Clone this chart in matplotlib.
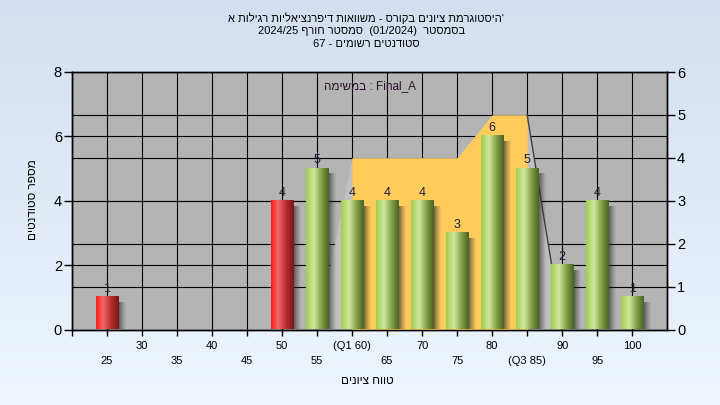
import re
import numpy as np
import matplotlib
matplotlib.use("Agg")
import matplotlib.pyplot as plt
from matplotlib.colors import LinearSegmentedColormap

# grade bins and student counts (left axis)
grades = [25, 30, 35, 40, 45, 50, 55, 60, 65, 70, 75, 80, 85, 90, 95, 100]
counts = [1, 0, 0, 0, 0, 4, 5, 4, 4, 4, 3, 6, 5, 2, 4, 1]
tick_labels = ["25", "30", "35", "40", "45", "50", "55", "(Q1 60)",
               "65", "70", "75", "80", "(Q3 85)", "90", "95", "100"]

# background band (right axis) and the quartile range inside it
band = [0, 0, 0, 0, 0, 0, 0, 4, 4, 4, 4, 5, 5, 0, 0, 0]
q1_idx = 7
q3_idx = 12
pass_grade = 55

title_1 = "היסטוגרמת ציונים בקורס - משוואות דיפרנציאליות רגילות א"
title_2 = "בסמסטר  (01/2024)  סמסטר חורף 2024/25"
title_3 = "סטודנטים רשומים - 67"
task_label = "במשימה"
task_name = "Final_A"
x_title = "טווח ציונים"
y_title = "מספר סטודנטים"


def vis(s):
    # logical hebrew -> visual order (matplotlib draws left to right)
    r = s[::-1]
    r = re.sub(r"[0-9A-Za-z_/.]+", lambda m: m.group(0)[::-1], r)
    return r.translate(str.maketrans("()", ")("))


plt.rcParams["font.family"] = ["Liberation Sans", "DejaVu Sans"]

fig = plt.figure(figsize=(7.2, 4.05), dpi=100)

# figure background gradient
bg = fig.add_axes([0, 0, 1, 1], zorder=-10)
bg_cmap = LinearSegmentedColormap.from_list("bg", ["#d3dff0", "#eef5fd"])
bg.imshow(np.linspace(0, 1, 256)[:, None], aspect="auto", cmap=bg_cmap,
          extent=[0, 1, 0, 1])
bg.axis("off")

W, H = 720, 405
left, right, top, bottom = 71.7, 667.3, 72, 329.5
ax = fig.add_axes([left / W, 1 - bottom / H, (right - left) / W, (bottom - top) / H])
ax.set_facecolor("#b4b4b4")

n = len(grades)
k = 8 / 6   # right axis -> left axis units
xs = np.arange(n)

# grid from both axes
for gx in range(-1, n + 1):
    ax.axvline(gx, color="black", lw=0.8, zorder=1)
for gy in [2, 4, 6]:
    ax.axhline(gy, color="black", lw=0.8, zorder=1)
for gr in range(1, 6):
    ax.axhline(gr * k, color="black", lw=0.8, zorder=1)

band_l = np.array(band) * k
ax.fill_between(xs, band_l, color="#c0c0c0", lw=0, zorder=2)
ax.fill_between(xs[q1_idx:q3_idx + 1], band_l[q1_idx:q3_idx + 1],
                color="#ffcc5c", lw=0, zorder=3)
ax.plot([q3_idx, q3_idx + 1], [band_l[q3_idx], band_l[q3_idx + 1]],
        color="#404040", lw=1, zorder=3)

green = LinearSegmentedColormap.from_list(
    "g", [(0, "#a2cc50"), (0.35, "#cfe89c"), (0.7, "#7f9c44"), (1, "#4a6424")])
red = LinearSegmentedColormap.from_list(
    "r", [(0, "#ff1a1a"), (0.3, "#f06868"), (0.7, "#b02a2a"), (1, "#7a1515")])

w = 0.63
row = np.linspace(0, 1, 64)[None, :]
shade = np.zeros((1, 24, 4))
shade[..., :3] = 0.18
shade[..., 3] = np.linspace(0.8, 0, 24) ** 1.3

for i, v in enumerate(counts):
    if v == 0:
        continue
    x0 = i - w / 2
    ax.imshow(shade, extent=[x0 + w, x0 + w + 0.24, 0, v - 0.18],
              aspect="auto", zorder=4, interpolation="bilinear")
    cm = red if grades[i] < pass_grade else green
    ax.imshow(row, cmap=cm, extent=[x0, x0 + w, 0, v], aspect="auto",
              zorder=5, interpolation="bilinear")
    ax.annotate(str(v), (i, v), xytext=(0, 1.5), textcoords="offset points",
                ha="center", va="bottom", fontsize=9, color="#1c1c3c", zorder=6)

ax.set_xlim(-1, n)
ax.set_ylim(0, 8)
ax.set_aspect("auto")

ax.set_yticks([0, 2, 4, 6, 8])
ax.tick_params(axis="y", direction="out", length=6, width=1, labelsize=10.5, pad=1)

ax.set_xticks(xs[1::2])
ax.set_xticklabels(tick_labels[1::2])
ax.set_xticks([-1] + list(xs[0::2]), minor=True)
ax.set_xticklabels([""] + tick_labels[0::2], minor=True)
ax.tick_params(axis="x", which="both", direction="out", length=4, width=1, labelsize=8)
ax.tick_params(axis="x", which="major", pad=4)
ax.tick_params(axis="x", which="minor", pad=15)

ax2 = ax.twinx()
ax2.set_ylim(0, 6)
ax2.set_yticks(range(7))
ax2.tick_params(axis="y", direction="out", length=6, width=1, labelsize=10.5, pad=1)

for a in (ax, ax2):
    for s in a.spines.values():
        s.set_color("black")
        s.set_linewidth(1)

# titles
fig.text(366 / W, 1 - 18 / H, vis(title_1) + "'", ha="center", va="center", fontsize=8)
fig.text(362 / W, 1 - 31 / H, vis(title_2), ha="center", va="center", fontsize=8)
fig.text(366 / W, 1 - 44 / H, vis(title_3), ha="center", va="center", fontsize=8)
fig.text(370 / W, 1 - 86 / H, vis(task_label) + " : " + task_name,
         ha="center", va="center", fontsize=8.5, color="#2a102a")

fig.text(367 / W, 1 - 381 / H, vis(x_title), ha="center", va="center", fontsize=8.5)
fig.text(33 / W, 1 - 200 / H, vis(y_title), rotation=90, ha="center", va="center",
         fontsize=8.5)

fig.savefig("out.png", dpi=100)
